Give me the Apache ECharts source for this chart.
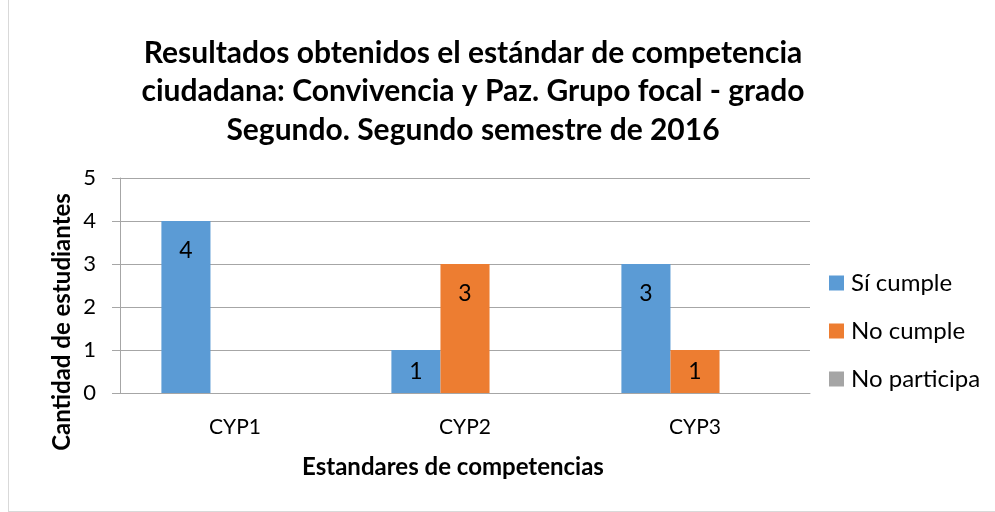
<html>
<head>
<meta charset="utf-8">
<script src="https://cdn.jsdelivr.net/npm/echarts@6/dist/echarts.min.js"></script>
<style>
  body { margin: 0; background: #fff; }
  #container { width: 995px; height: 512px; }
  #frame { position: absolute; left: 8px; top: 0; width: 986px; height: 511px; border-left: 1px solid #d9d9d9; border-bottom: 1px solid #d9d9d9; pointer-events: none; }
</style>
</head>
<body>
<div id="container"></div>
<div id="frame"></div>
<script>
const CATEGORIES = ['CYP1', 'CYP2', 'CYP3'];
const SI_CUMPLE = [4, 1, 3];
const NO_CUMPLE = [0, 3, 1];
const NO_PARTICIPA = [0, 0, 0];
const SERIES_NAMES = ['Sí cumple', 'No cumple', 'No participa'];
const COLORS = ['#5B9BD5', '#ED7D31', '#A5A5A5'];
const FONT = 'Lato, "Open Sans", sans-serif';

function buildData(values) {
  return values.map(v => ({
    value: v,
    label: {
      show: v > 0,
      position: v <= 1 ? 'inside' : 'insideTop',
      distance: 18
    }
  }));
}

function buildSeries(name, values, color) {
  return {
    name,
    type: 'bar',
    data: buildData(values),
    itemStyle: { color },
    barGap: 0,
    barCategoryGap: '36%',
    label: { color: '#000', fontSize: 23, fontFamily: FONT },
    emphasis: { disabled: true }
  };
}

let mychart = echarts.init(document.getElementById('container'));

var option = {
  animation: false,
  title: {
    text: 'Resultados obtenidos el estándar de competencia\nciudadana: Convivencia y Paz. Grupo focal - grado\nSegundo. Segundo semestre de 2016',
    left: 468,
    top: 29,
    textAlign: 'center',
    textStyle: { fontFamily: FONT, fontWeight: 'bold', fontSize: 30, lineHeight: 38.5, color: '#000' }
  },
  legend: {
    orient: 'vertical',
    left: 824,
    top: 265,
    itemWidth: 15,
    itemHeight: 15,
    itemGap: 22,
    icon: 'rect',
    data: SERIES_NAMES,
    textStyle: { fontFamily: FONT, fontSize: 24, lineHeight: 26, color: '#000', padding: [0, 0, 0, 2] }
  },
  grid: { left: 120, right: 185, top: 178, bottom: 119 },
  xAxis: {
    type: 'category',
    data: CATEGORIES,
    name: 'Estandares de competencias',
    nameLocation: 'middle',
    nameGap: 62,
    nameTextStyle: { fontFamily: FONT, fontWeight: 'bold', fontSize: 24, color: '#000', padding: [0, 24, 0, 0] },
    axisLine: { lineStyle: { color: '#a6a6a6' } },
    axisTick: { length: 8, lineStyle: { color: '#a6a6a6' } },
    axisLabel: { fontFamily: FONT, fontSize: 21, color: '#000', margin: 24 }
  },
  yAxis: {
    type: 'value',
    min: 0,
    max: 5,
    interval: 1,
    axisLine: { show: true, lineStyle: { color: '#a6a6a6' } },
    axisTick: { show: true, length: 8, lineStyle: { color: '#a6a6a6' } },
    splitLine: { lineStyle: { color: '#a6a6a6' } },
    axisLabel: { fontFamily: FONT, fontSize: 22, color: '#000', margin: 24 }
  },
  graphic: [{
    type: 'text',
    x: 62,
    y: 322,
    rotation: Math.PI / 2,
    style: {
      text: 'Cantidad de estudiantes',
      fontFamily: FONT,
      fontWeight: 'bold',
      fontSize: 24,
      fill: '#000',
      align: 'center',
      verticalAlign: 'middle'
    }
  }],
  series: [
    buildSeries(SERIES_NAMES[0], SI_CUMPLE, COLORS[0]),
    buildSeries(SERIES_NAMES[1], NO_CUMPLE, COLORS[1]),
    buildSeries(SERIES_NAMES[2], NO_PARTICIPA, COLORS[2])
  ]
};

mychart.setOption(option);
</script>
</body>
</html>
